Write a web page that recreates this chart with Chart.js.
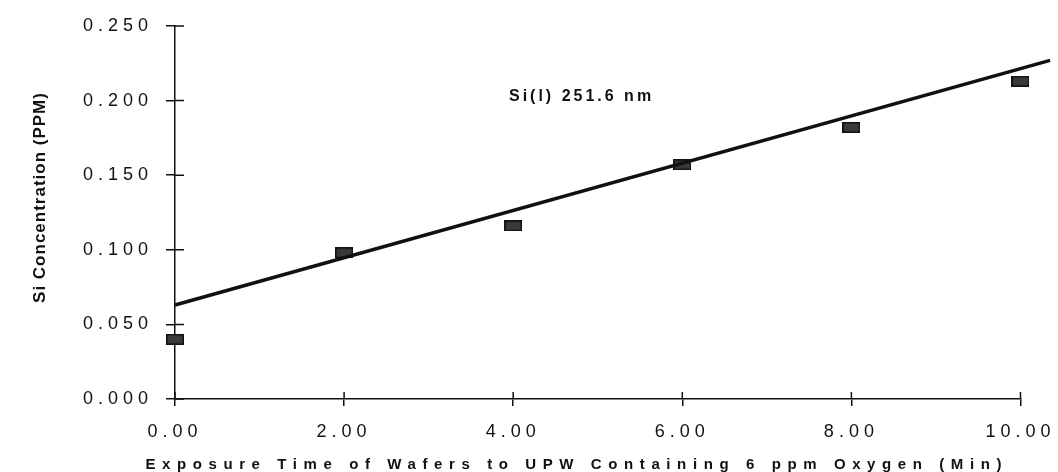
<!DOCTYPE html>
<html>
<head>
<meta charset="utf-8">
<script src="https://cdn.jsdelivr.net/npm/chart.js@4/dist/chart.umd.min.js"></script>
<style>
  html, body { margin: 0; padding: 0; background: #fff; }
  #wrap { width: 1058px; height: 472px; }
</style>
</head>
<body>
<div id="wrap"><canvas id="c" width="1058" height="472"></canvas></div>
<script>
// ---- data ----
const exposureMin = [0, 2, 4, 6, 8, 10];
const siPPM = [0.040, 0.098, 0.116, 0.157, 0.182, 0.213];
const trendX = [0, 10.35];
const trendY = [0.063, 0.227];
const yTicks = [0.000, 0.050, 0.100, 0.150, 0.200, 0.250];
const xTicks = [0, 2, 4, 6, 8, 10];
const xTitle = 'Exposure Time of Wafers to UPW Containing 6 ppm Oxygen (Min)';
const yTitle = 'Si Concentration (PPM)';
const noteText = 'Si(l) 251.6 nm';

const INK = '#111';
const FONT = '"Liberation Sans", Arial, sans-serif';

// rectangular marker
const marker = document.createElement('canvas');
marker.width = 18; marker.height = 11;
(function () {
  const m = marker.getContext('2d');
  m.fillStyle = '#111';
  m.fillRect(0, 0, 18, 11);
  m.fillStyle = '#3a3a3a';
  m.fillRect(1.5, 1.5, 15, 8);
})();

const SCALE_STYLE = {
  x: { labelLS: '5px', titleLS: '6.6px', dx: 0, dy: 0, growLeft: 42 },
  y: { labelLS: '5px', titleLS: '1px', dx: 0, dy: -15, growLeft: 0 }
};

const spacingPlugin = {
  id: 'spacing',
  beforeDraw(chart) {
    for (const s of Object.values(chart.scales)) {
      if (s._lsPatched) continue;
      s._lsPatched = true;
      const cfg = SCALE_STYLE[s.id];
      if (!cfg) continue;
      const dl = s.drawLabels.bind(s);
      const dt = s.drawTitle.bind(s);
      s.drawLabels = function (a) {
        const c = this.ctx; c.save(); c.letterSpacing = cfg.labelLS; dl(a); c.restore();
      };
      s.drawTitle = function () {
        const c = this.ctx;
        const oldLeft = this.left;
        this.left = oldLeft - cfg.growLeft;
        c.save(); c.letterSpacing = cfg.titleLS; c.translate(cfg.dx, cfg.dy); dt(); c.restore();
        this.left = oldLeft;
      };
    }
  }
};

const innerTicks = {
  id: 'innerTicks',
  afterDraw(chart) {
    const { ctx, chartArea, scales: { x, y } } = chart;
    ctx.save();
    ctx.strokeStyle = INK;
    ctx.lineWidth = 1.5;
    ctx.beginPath();
    y.ticks.forEach(t => {
      const py = y.getPixelForValue(t.value);
      ctx.moveTo(chartArea.left, py); ctx.lineTo(chartArea.left + 9, py);
    });
    x.ticks.forEach(t => {
      const px = x.getPixelForValue(t.value);
      ctx.moveTo(px, chartArea.bottom); ctx.lineTo(px, chartArea.bottom - 7);
    });
    ctx.stroke();
    ctx.restore();
  }
};

const notePlugin = {
  id: 'note',
  afterDatasetsDraw(chart) {
    const { ctx, scales: { x, y } } = chart;
    ctx.save();
    ctx.font = 'bold 16px ' + FONT;
    ctx.letterSpacing = '3px';
    ctx.fillStyle = INK;
    ctx.textAlign = 'left';
    ctx.textBaseline = 'middle';
    ctx.fillText(noteText, x.getPixelForValue(3.95), y.getPixelForValue(0.2025));
    ctx.restore();
  }
};

new Chart(document.getElementById('c'), {
  type: 'scatter',
  data: {
    datasets: [
      {
        label: 'Si',
        data: exposureMin.map((v, i) => ({ x: v, y: siPPM[i] })),
        pointStyle: marker,
        pointRadius: 6,
        showLine: false,
        clip: false,
        order: 2
      },
      {
        label: 'trend',
        data: trendX.map((v, i) => ({ x: v, y: trendY[i] })),
        showLine: true,
        borderColor: INK,
        borderWidth: 3.5,
        pointRadius: 0,
        clip: false,
        order: 1
      }
    ]
  },
  options: {
    responsive: false,
    animation: false,
    layout: { padding: { top: 26, right: 35, bottom: 0, left: 0 } },
    plugins: { legend: { display: false }, tooltip: { enabled: false } },
    scales: {
      x: {
        type: 'linear',
        min: 0, max: 10,
        afterBuildTicks: s => { s.ticks = xTicks.map(v => ({ value: v })); },
        afterFit: s => { s.height = 73; },
        ticks: {
          autoSkip: false,
          maxRotation: 0,
          padding: 15,
          color: INK,
          font: { family: FONT, size: 18 },
          callback: v => Number(v).toFixed(2)
        },
        grid: { drawOnChartArea: false, color: INK, lineWidth: 1.5, tickLength: 7 },
        border: { color: INK, width: 1.5 },
        title: {
          display: true,
          text: xTitle,
          color: INK,
          font: { family: FONT, size: 15, weight: 'bold', lineHeight: 1 },
          padding: { top: 0, bottom: 0 }
        }
      },
      y: {
        type: 'linear',
        min: 0, max: 0.25,
        afterBuildTicks: s => { s.ticks = yTicks.map(v => ({ value: v })); },
        afterFit: s => { s.width = 175; },
        ticks: {
          autoSkip: false,
          padding: 13,
          color: INK,
          font: { family: FONT, size: 18 },
          callback: v => Number(v).toFixed(3)
        },
        grid: { drawOnChartArea: false, color: INK, lineWidth: 1.5, tickLength: 9 },
        border: { color: INK, width: 1.5 },
        title: {
          display: true,
          text: yTitle,
          color: INK,
          font: { family: FONT, size: 17, weight: 'bold', lineHeight: 1 },
          padding: { top: 32, bottom: 0 }
        }
      }
    }
  },
  plugins: [spacingPlugin, innerTicks, notePlugin]
});
</script>
</body>
</html>
